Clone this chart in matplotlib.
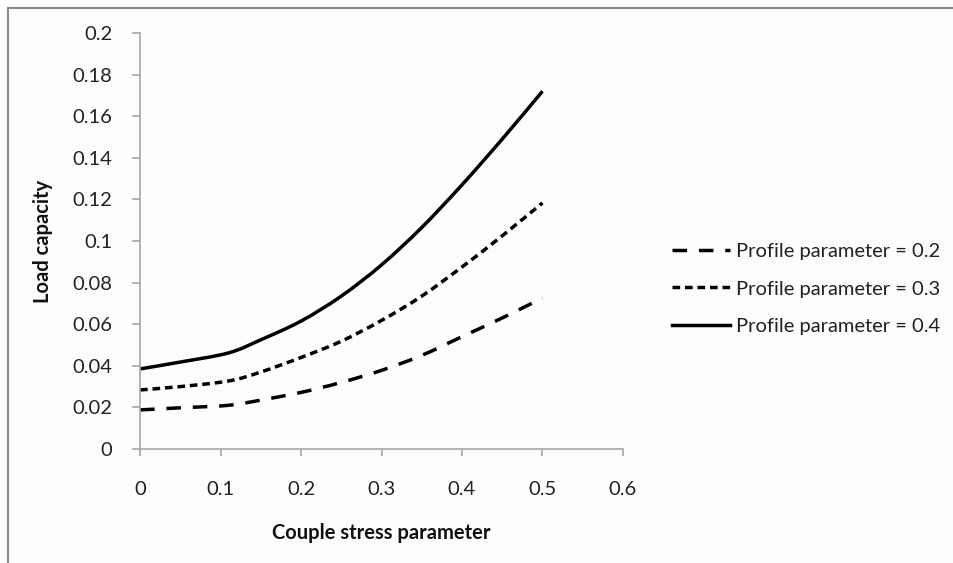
import matplotlib
matplotlib.use("Agg")
import matplotlib.pyplot as plt
from matplotlib.patches import Rectangle, PathPatch
from matplotlib.path import Path
from matplotlib.lines import Line2D

# couple stress parameter (x) and load capacity for each profile parameter
couple_stress = [0.0, 0.05, 0.11, 0.15, 0.2, 0.25, 0.3, 0.35, 0.4, 0.45, 0.5]
load_p02 = [0.0188, 0.0198, 0.0210, 0.0235, 0.0272, 0.0320, 0.0378, 0.0450, 0.0540, 0.0630, 0.0726]
load_p03 = [0.0284, 0.0300, 0.0327, 0.0370, 0.0440, 0.0518, 0.0618, 0.0735, 0.0875, 0.1025, 0.1183]
load_p04 = [0.0385, 0.0418, 0.0462, 0.0525, 0.0615, 0.0735, 0.0885, 0.1065, 0.1270, 0.1490, 0.1720]
series_labels = ["Profile parameter = 0.2", "Profile parameter = 0.3", "Profile parameter = 0.4"]

x_ticks = [0, 0.1, 0.2, 0.3, 0.4, 0.5, 0.6]
x_ticklabels = ["0", "0.1", "0.2", "0.3", "0.4", "0.5", "0.6"]
y_ticks = [0, 0.02, 0.04, 0.06, 0.08, 0.1, 0.12, 0.14, 0.16, 0.18, 0.2]
y_ticklabels = ["0", "0.02", "0.04", "0.06", "0.08", "0.1", "0.12", "0.14", "0.16", "0.18", "0.2"]

plt.rcParams["font.family"] = ["Lato", "DejaVu Sans"]
plt.rcParams["lines.scale_dashes"] = False

FS = 14.5
LW = 2.5
TXT = "#222222"


def smooth_path(xs, ys):
    # Excel-style smoothed line: Catmull-Rom segments as cubic Beziers
    verts = [(xs[0], ys[0])]
    codes = [Path.MOVETO]
    n = len(xs)
    for i in range(n - 1):
        x0, y0 = (xs[i - 1], ys[i - 1]) if i > 0 else (xs[i], ys[i])
        x1, y1 = xs[i], ys[i]
        x2, y2 = xs[i + 1], ys[i + 1]
        x3, y3 = (xs[i + 2], ys[i + 2]) if i + 2 < n else (x2, y2)
        c1 = (x1 + (x2 - x0) / 6.0, y1 + (y2 - y0) / 6.0)
        c2 = (x2 - (x3 - x1) / 6.0, y2 - (y3 - y1) / 6.0)
        verts += [c1, c2, (x2, y2)]
        codes += [Path.CURVE4] * 3
    return Path(verts, codes)


fig = plt.figure(figsize=(9.54, 5.63), dpi=100)
fig.patch.set_facecolor("#fdfdfd")
ax = fig.add_axes([0.1468, 0.2025, 0.5062, 0.7389])
ax.set_facecolor("#fdfdfd")

styles = [(0, (10.5, 8.5)), (0, (5.5, 3.5)), "-"]
handles = []
for ys, style, label in zip([load_p02, load_p03, load_p04], styles, series_labels):
    patch = PathPatch(smooth_path(couple_stress, ys), facecolor="none",
                      edgecolor="black", lw=LW, linestyle=style, capstyle="butt")
    ax.add_patch(patch)
    handles.append(Line2D([], [], color="black", lw=LW, linestyle=style, label=label))

ax.set_xlim(0, 0.6)
ax.set_ylim(0, 0.2)
ax.set_xticks(x_ticks)
ax.set_xticklabels(x_ticklabels)
ax.set_yticks(y_ticks)
ax.set_yticklabels(y_ticklabels)

for side in ("top", "right"):
    ax.spines[side].set_visible(False)
for side in ("left", "bottom"):
    ax.spines[side].set_color("#a6a6a6")
    ax.spines[side].set_linewidth(1.2)

ax.tick_params(axis="x", direction="out", length=5, width=1.2, color="#a6a6a6",
               pad=18, labelsize=FS, labelcolor=TXT)
ax.tick_params(axis="y", direction="out", length=6, width=1.2, color="#a6a6a6",
               pad=14, labelsize=FS, labelcolor=TXT)

ax.set_xlabel("Couple stress parameter", fontsize=FS, fontweight="bold",
              color="#111111", labelpad=18)
ax.set_ylabel("Load capacity", fontsize=FS, fontweight="bold",
              color="#111111", labelpad=14)

fig.legend(handles=handles, loc="center left", bbox_to_anchor=(0.7044, 0.4867),
           bbox_transform=fig.transFigure, frameon=False, borderpad=0,
           borderaxespad=0, fontsize=FS, handlelength=2.9, handletextpad=0.3,
           labelspacing=1.0, labelcolor=TXT)

# outer chart border (only top and left edges visible in the crop)
fig.add_artist(Rectangle((8 / 954, -0.1), 1.2, 1 - 8 / 563 + 0.1,
                         transform=fig.transFigure, fill=False,
                         edgecolor="#8c8c8c", lw=1.5))

fig.savefig("out.png", dpi=100, facecolor=fig.get_facecolor())
